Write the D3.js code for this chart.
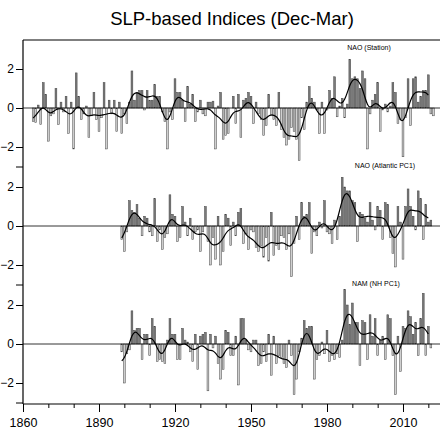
<!DOCTYPE html>
<html><head><meta charset="utf-8">
<script src="https://cdn.jsdelivr.net/npm/d3@7"></script>
<style>body{margin:0;background:#fff}svg{display:block}</style>
</head><body><div id="chart"></div>
<script>
// indices, one value per winter (Dec-Mar)
var naoStationStart = 1864;
var naoStation = [
  -0.7,-0.75,0.15,-0.85,1.3,0.7,-1.7,-0.4,-0.3,1.0,-0.85,0.3,-0.2,0.6,-1.3,0.3,-2.1,1.8,0.6,-0.6,
  -0.3,0.1,-1.5,-0.4,0.8,-0.6,-1.2,-0.5,1.3,-2.1,0.4,-0.3,0.4,-1.2,0.3,
  -1.3,-0.3,-0.8,0.3,1.9,0.4,0.8,0.9,0.9,-0.1,0.9,0.4,0.4,1.2,0.6,
  0.6,-0.2,-0.7,-2.1,-0.2,-0.6,1.5,0.8,0.8,0.4,-0.7,1.1,0.2,0.7,-0.7,-0.2,0.4,-0.3,-0.4,0.3,
  0.3,0.35,-2.1,0.1,0.8,-1.6,-1.4,-1.3,0,0.6,-0.8,0.7,-1.5,0.4,0.5,0.8,0.6,-0.8,0.3,-0.3,
  -0.6,-1.4,-0.9,0.7,-0.4,-0.6,-0.9,0.8,
  -1.1,-1.5,-1.9,-1.6,-1.0,-1.2,-1.6,-2.7,-0.5,
  -1.1,0.3,1.1,0.5,0.3,-0.1,-1.3,0.3,-1.3,-0.1,0.9,0.5,1.6,-0.45,0.1,0.5,-0.5,0.2,2.5,1.5,
  1.6,1.5,1.0,1.9,1.5,-2.1,-0.3,0.4,0.7,1.3,-1.2,-0.1,0.2,-0.2,0.1,1.3,0.8,-0.8,-0.6,-2.5,
  -0.5,1.5,-0.9,1.5,1.6,0.3,0.6,0.9,0.9,1.7,-0.3,-0.4
];
var pcStart = 1899;
var naoPC1 = [
  -0.7,-1.3,-0.3,1.3,0.8,0.7,1.1,0.4,-0.5,0.5,0.4,-0.3,-0.5,1.4,-0.8,-0.2,-1.2,-0.6,-0.4,1.6,
  0.6,0.5,-0.8,-0.6,1.0,0.2,-0.5,0.4,-0.7,-0.3,-0.2,-1.3,-0.3,1.0,-0.8,-2.0,-0.6,-1.7,0.5,-2.0,
  -1.3,0.6,0.4,-1.0,0.2,-0.5,0.7,0.9,-0.9,-0.4,-1.2,-0.2,-0.3,-1.1,-1.3,-1.0,-1.6,-0.6,-1.8,0.7,
  -1.5,-1.0,-1.2,-0.5,-0.6,-1.2,-0.4,-2.6,-0.9,0.5,-0.7,1.2,0.5,0.6,1.2,-1.4,-0.3,-0.5,0.2,-0.1,
  1.3,-0.3,-0.4,-0.9,0.3,-0.7,0.5,2.5,2.0,1.8,1.8,1.3,1.2,-0.8,0.7,0.6,0.4,0.2,1.2,0.3,
  -0.2,1.0,0.8,-0.7,1.2,1.1,-0.6,-1.4,-2.1,1.0,0.2,-1.7,1.0,1.9,1.0,0.5,-0.2,1.8,1.4,-0.7,
  1.1,0.2,0.3
];
var nam = [
  -0.4,-2.0,-0.5,-0.3,1.7,0.7,0.8,0.8,-0.8,0.5,0.5,-0.6,1.3,0.9,-0.9,-0.8,-0.9,-1.0,0.2,1.3,
  0.5,0.5,-0.8,-0.8,0.8,0.2,0.1,-0.4,-0.9,0.5,-1.3,0.4,0.5,0.6,-2.4,0.5,-0.2,0.4,-1.0,-1.8,
  -1.3,0.7,0.6,-0.6,-0.6,0.4,-2.1,1.3,1.3,0.2,-0.3,-0.4,0.2,0.2,-1.1,-1.0,-0.4,-0.9,0.5,-1.6,
  0.4,-1.0,-0.6,-0.7,-1.0,-1.2,0.2,-0.6,-2.6,-1.8,-0.4,0.3,1.2,0.8,0.9,0.9,-1.8,-0.8,-0.6,0.1,
  -0.5,0.7,-0.9,-0.6,-0.8,-0.5,-0.7,0.2,2.8,2.0,1.0,2.1,1.1,1.1,-1.1,1.2,1.1,-0.8,1.5,0.4,
  1.3,-0.6,0.2,0.4,-0.8,1.5,1.3,-0.6,-2.6,0.4,-1.4,0.9,0.8,1.7,1.4,0.5,1.1,-0.6,1.3,2.6,
  -0.6,0.9,-0.2
];
var panelNames = ["NAO (Station)", "NAO (Atlantic PC1)", "NAM (NH PC1)"];
var xTicks = [1860, 1890, 1920, 1950, 1980, 2010];

function toSeries(start, vals) {
  return vals.map(function (v, i) { return { year: start + i, v: v }; });
}
// gaussian-type low pass
function smooth(s) {
  var w = d3.range(-5, 6).map(function (k) { return Math.exp(-k * k / (2 * 1.7 * 1.7)); });
  return s.map(function (d, i) {
    var sum = 0, ws = 0;
    for (var k = -5; k <= 5; k++) {
      var j = i + k;
      if (j < 0 || j >= s.length) continue;
      sum += s[j].v * w[k + 5]; ws += w[k + 5];
    }
    return { year: d.year, v: sum / ws };
  });
}

var panels = [
  toSeries(naoStationStart, naoStation),
  toSeries(pcStart, naoPC1),
  toSeries(pcStart, nam)
];

var W = 440, H = 440;
var svg = d3.select("#chart").append("svg").attr("width", W).attr("height", H)
  .style("font-family", "'Liberation Sans', Arial, sans-serif");

var x = d3.scaleLinear().domain([1860, 2010]).range([23, 403]);
var step = 118;

svg.append("text").attr("x", 232).attr("y", 25).attr("text-anchor", "middle")
  .attr("font-size", 18.5).text("SLP-based Indices (Dec-Mar)");

var bw = 1.8;
panels.forEach(function (s, p) {
  var y = d3.scaleLinear().domain([-1, 1]).range([108 + p * step + 19.5, 108 + p * step - 19.5]);
  var g = svg.append("g");
  g.selectAll("rect").data(s).enter().append("rect")
    .attr("x", function (d) { return x(d.year) - bw / 2; })
    .attr("y", function (d) { return y(Math.max(0, d.v)); })
    .attr("width", bw)
    .attr("height", function (d) { return Math.abs(y(d.v) - y(0)); })
    .attr("fill", function (d) { return d.v > 0 ? "#7a7a7a" : "#d0d0d0"; })
    .attr("stroke", "#444").attr("stroke-width", 0.5);
  g.append("line").attr("x1", 23).attr("x2", W).attr("y1", y(0)).attr("y2", y(0))
    .attr("stroke", "#000").attr("stroke-width", 0.8);
  var sm = smooth(s).filter(function (d) { return d.year <= 2020; });
  g.append("path").datum(sm)
    .attr("d", d3.line().x(function (d) { return x(d.year); }).y(function (d) { return y(d.v); }).curve(d3.curveBasis))
    .attr("fill", "none").attr("stroke", "#000").attr("stroke-width", 1.2);
  g.append("text").attr("x", [369, 385, 376][p]).attr("y", y(0) - 58)
    .attr("text-anchor", "middle").attr("font-size", 7).text(panelNames[p]);
  // left ticks
  var ax = d3.axisLeft(y).tickValues([-2, 0, 2]).tickSize(7).tickPadding(2)
    .tickFormat(function (d) { return d < 0 ? "\u2212" + (-d) : d; });
  svg.append("g").attr("transform", "translate(23,0)").call(ax)
    .call(function (a) { a.select(".domain").remove(); a.selectAll("text").attr("font-size", 12).attr("fill", "#000"); });
  svg.append("g").attr("transform", "translate(23,0)")
    .call(d3.axisLeft(y).tickValues([-3]).tickSize(7).tickFormat(""))
    .call(function (a) { a.select(".domain").remove(); });
});

// frame: top and left
svg.append("line").attr("x1", 23).attr("x2", W).attr("y1", 40).attr("y2", 40).attr("stroke", "#000").attr("stroke-width", 1.2);
svg.append("line").attr("x1", 23).attr("x2", 23).attr("y1", 40).attr("y2", 404).attr("stroke", "#000").attr("stroke-width", 1.2);

var xb = svg.append("g").attr("transform", "translate(0,404)")
  .call(d3.axisBottom(x).tickValues(xTicks).tickSize(8).tickPadding(6).tickFormat(d3.format("d")));
xb.select(".domain").attr("d", "M23,0H" + W).attr("stroke-width", 1.2);
xb.selectAll("text").attr("font-size", 12.5);
svg.append("g").attr("transform", "translate(0,404)")
  .call(d3.axisBottom(x).tickValues(d3.range(1870, 2030, 10).filter(function (d) { return xTicks.indexOf(d) < 0; })).tickSize(4).tickFormat(""))
  .select(".domain").remove();
</script></body></html>
